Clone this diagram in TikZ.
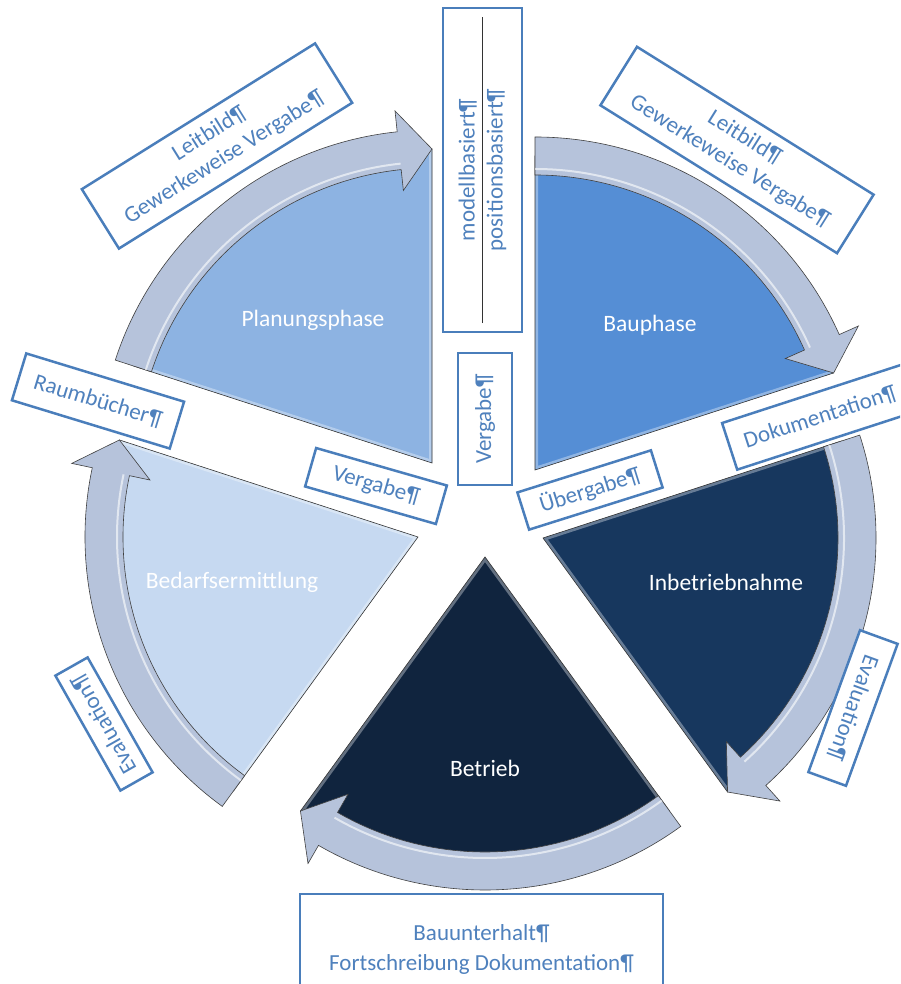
\documentclass[tikz,border=0pt]{standalone}
\usepackage{fontspec}
\setmainfont{Carlito}
\usetikzlibrary{calc}

\definecolor{bedarf}{HTML}{C6D9F1}
\definecolor{planung}{HTML}{8DB3E2}
\definecolor{bau}{HTML}{558ED5}
\definecolor{inbetrieb}{HTML}{17375E}
\definecolor{betrieb}{HTML}{10243E}
\definecolor{bandblue}{HTML}{B6C3DB}
\definecolor{boxblue}{HTML}{4A7EBB}
\definecolor{txtblue}{HTML}{4F81BD}

\tikzset{
  band/.style={fill=bandblue, draw=black!75, line width=.6pt},
  lbl/.style={draw=boxblue, line width=2.5pt, fill=white, text=txtblue, align=center,
    inner sep=0pt, font=\fontsize{23}{28}\selectfont},
  phasetext/.style={text=white, font=\fontsize{23.5}{28}\selectfont}
}

\newcommand{\phasepie}[4]{%
  \begin{scope}[shift={#1}]
    \fill[#4] (0,0) -- (#2:314) arc[start angle=#2, end angle=#3, radius=314] -- cycle;
    \begin{scope}
      \clip (0,0) -- (#2:314) arc[start angle=#2, end angle=#3, radius=314] -- cycle;
      \draw[white, opacity=.35, line width=6pt] (0,0) -- (#2:314) arc[start angle=#2, end angle=#3, radius=314] -- cycle;
    \end{scope}
    \draw[black!80, line width=.6pt] (0,0) -- (#2:314) arc[start angle=#2, end angle=#3, radius=314] -- cycle;
    \pgfmathsetmacro\headangle{#3+6}
    \filldraw[band] (#2:295) arc[start angle=#2, end angle=\headangle, radius=295]
      -- (\headangle:274) -- (#3:314) -- (\headangle:354) -- (\headangle:333)
      arc[start angle=\headangle, end angle=#2, radius=333] -- cycle;
    \draw[white, opacity=.6, line width=2pt] (#2:301) arc[start angle=#2, end angle=\headangle, radius=301];
  \end{scope}}

\begin{document}
\begin{tikzpicture}[x=1pt, y=1pt]

\useasboundingbox (0,0) rectangle (900,984);
\fill[white] (0,0) rectangle (900,984);
\clip (0,0) rectangle (900,984);

\phasepie{(418,447)}{234}{162}{bedarf}
\phasepie{(432,521)}{162}{90}{planung}
\phasepie{(535,514)}{90}{18}{bau}
\phasepie{(543,446)}{18}{-54}{inbetrieb}
\phasepie{(485,427)}{-54}{-126}{betrieb}

\node[phasetext] (bedarfsermittlung) at (232,402) {Bedarfsermittlung};
\node[phasetext] (planungsphase) at (313,664) {Planungsphase};
\node[phasetext] (bauphase) at (650,659) {Bauphase};
\node[phasetext] (inbetriebnahme) at (726,402) {Inbetriebnahme};
\node[phasetext] (betriebphase) at (485,216) {Betrieb};

\node[lbl, rotate=32, minimum width=275pt, minimum height=70pt] (leitbildL) at (217,838) {Leitbild¶\\Gewerkeweise Vergabe¶};
\node[lbl, rotate=-32, minimum width=279pt, minimum height=69pt] (leitbildR) at (737,834) {Leitbild¶\\Gewerkeweise Vergabe¶};
\node[lbl, rotate=90, minimum width=324pt, minimum height=79pt] (basis) at (482.5,814) {modellbasiert¶\\positionsbasiert¶};
\draw[black!80, line width=1.2pt] ($(basis.west)!10pt!(basis.east)$) -- ($(basis.east)!10pt!(basis.west)$);
\node[lbl, rotate=-17, minimum width=165pt, minimum height=49pt] (raum) at (98,583) {Raumbücher¶};
\node[lbl, rotate=-16, minimum width=136pt, minimum height=40pt] (vergabeL) at (376,498) {Vergabe¶};
\node[lbl, rotate=90, minimum width=132pt, minimum height=54pt] (vergabeM) at (485,565) {Vergabe¶};
\node[lbl, rotate=17.5, minimum width=140pt, minimum height=39pt] (uebergabe) at (590,494) {Übergabe¶};
\node[lbl, rotate=18, minimum width=190pt, minimum height=49pt] (doku) at (820,567) {Dokumentation¶};
\node[lbl, rotate=-110, minimum width=151pt, minimum height=40pt] (evalR) at (853,276) {Evaluation¶};
\node[lbl, rotate=119.5, minimum width=132pt, minimum height=37pt] (evalL) at (104,260) {Evaluation¶};
\node[lbl, anchor=north, minimum width=363pt, minimum height=110pt, font=\fontsize{23}{30}\selectfont] (unterhalt) at (481.5,91) {Bauunterhalt¶\\Fortschreibung Dokumentation¶};

\end{tikzpicture}
\end{document}
